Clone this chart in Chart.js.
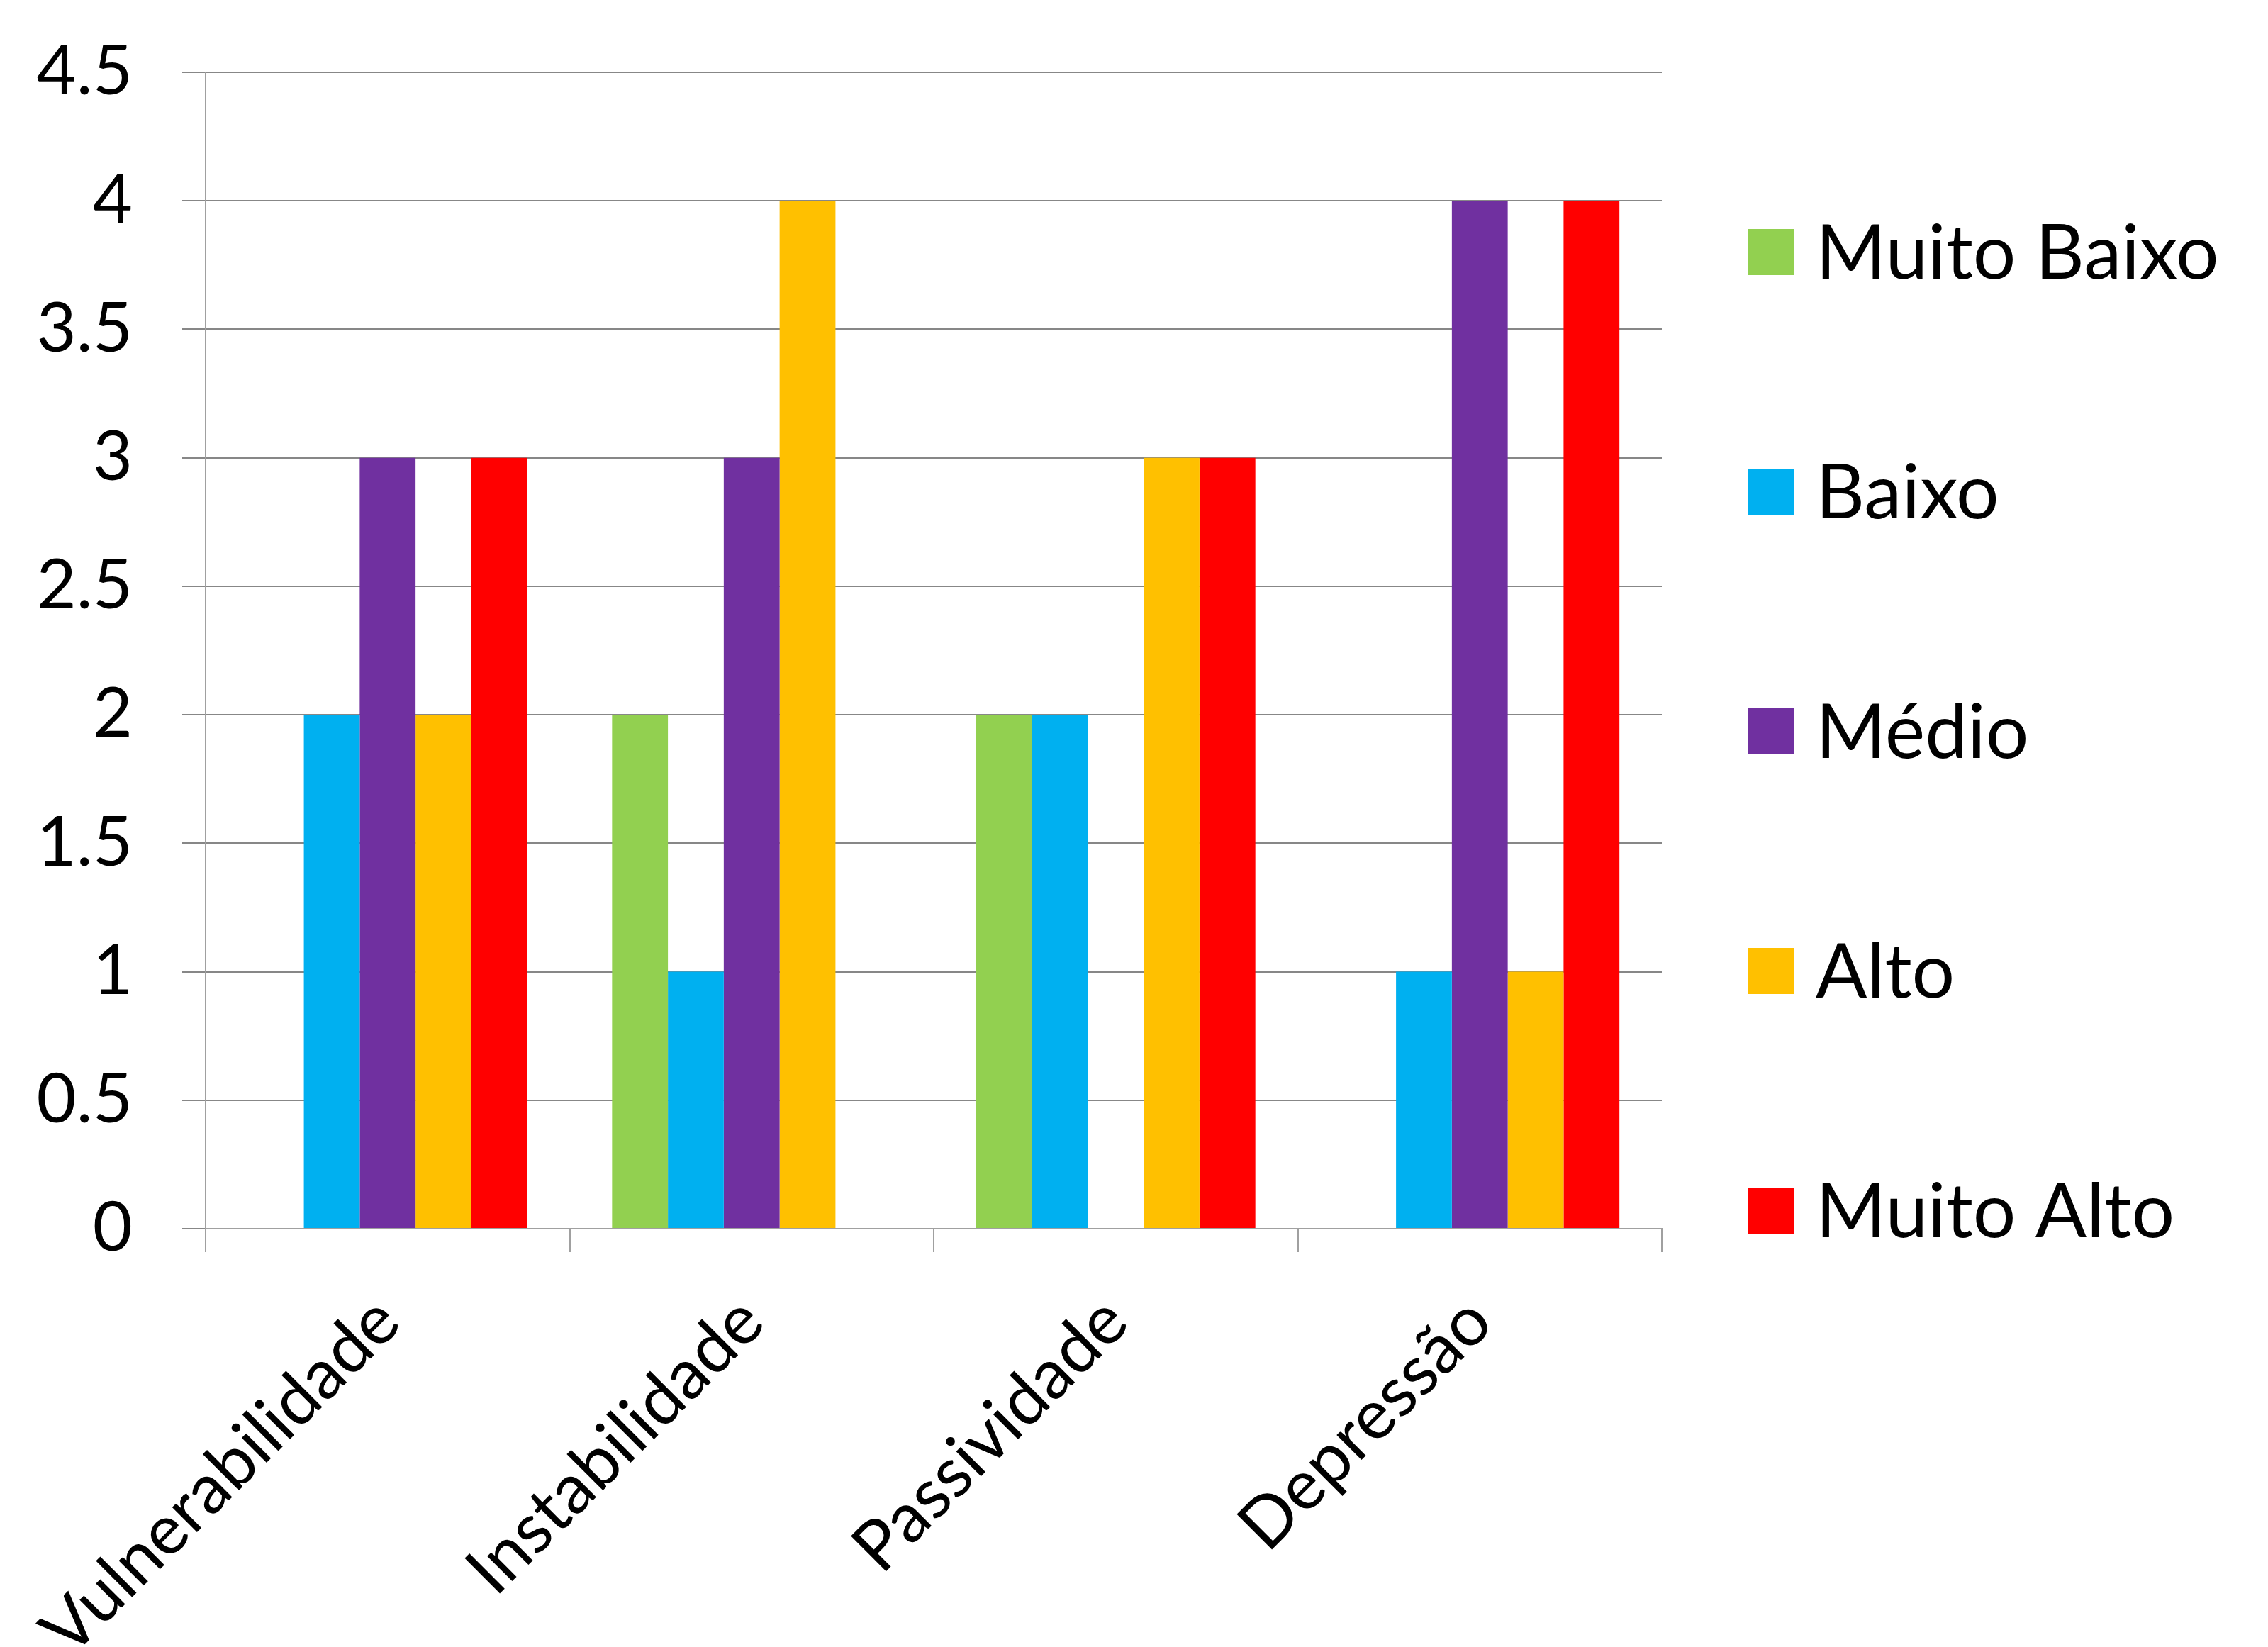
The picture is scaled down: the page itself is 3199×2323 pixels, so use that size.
<!DOCTYPE html>
<html>
<head>
<meta charset="utf-8">
<script src="https://cdn.jsdelivr.net/npm/chart.js@4.4.0/dist/chart.umd.min.js"></script>
<style>
  html, body { margin: 0; padding: 0; background: #fff; }
  #wrap { width: 3199px; height: 2323px; }
</style>
</head>
<body>
<div id="wrap"><canvas id="chart" width="3199" height="2323"></canvas></div>
<script>
/* ---------- data ---------- */
const categories = ["Vulnerabilidade", "Instabilidade", "Passividade", "Depressão"];
const seriesNames = ["Muito Baixo", "Baixo", "Médio", "Alto", "Muito Alto"];
const seriesColors = ["#92D050", "#00B0F0", "#7030A0", "#FFC000", "#FF0000"];

const muitoBaixo = [0, 2, 2, 0];
const baixo      = [2, 1, 2, 1];
const medio      = [3, 3, 0, 4];
const alto       = [2, 4, 3, 1];
const muitoAlto  = [3, 0, 3, 4];

const yTickLabels = ["0", "0.5", "1", "1.5", "2", "2.5", "3", "3.5", "4", "4.5"];

const FONT = "Lato";
const GRID = "#878787";

/* ---------- legend drawn at the right, spread out like Excel ---------- */
const sideLegend = {
    id: "sideLegend",
    afterDraw(chart) {
        const ctx = chart.ctx;
        const area = chart.chartArea;
        ctx.save();
        ctx.font = "107px " + FONT;
        ctx.textBaseline = "middle";
        ctx.textAlign = "left";
        chart.data.datasets.forEach((ds, i) => {
            const cy = area.top + 254 + i * 338;
            ctx.fillStyle = ds.backgroundColor;
            ctx.fillRect(area.right + 121, cy - 33, 65, 65);
            ctx.fillStyle = "#000";
            ctx.fillText(ds.label, area.right + 217, cy + 2);
        });
        ctx.restore();
    }
};

const values = [muitoBaixo, baixo, medio, alto, muitoAlto];

new Chart(document.getElementById("chart"), {
    type: "bar",
    data: {
        labels: categories,
        datasets: seriesNames.map((name, i) => ({
            label: name,
            data: values[i],
            backgroundColor: seriesColors[i],
            borderWidth: 0
        }))
    },
    options: {
        responsive: false,
        animation: false,
        layout: { padding: { left: 0, top: 102, right: 855, bottom: 0 } },
        datasets: {
            bar: { barPercentage: 1, categoryPercentage: 0.767 }
        },
        plugins: {
            legend: { display: false },
            tooltip: { enabled: false }
        },
        scales: {
            x: {
                afterFit: (scale) => { scale.height = 590; },
                grid: {
                    drawOnChartArea: false,
                    drawTicks: true,
                    tickLength: 33,
                    color: "#a0a0a0",
                    lineWidth: 2
                },
                border: { color: "#a0a0a0", width: 2 },
                ticks: {
                    autoSkip: false,
                    maxRotation: 45,
                    minRotation: 45,
                    padding: 40,
                    color: "#000",
                    font: { family: FONT, size: 98 }
                }
            },
            y: {
                min: 0,
                max: 4.5,
                afterFit: (scale) => {
                    scale.width = 290;
                    scale.paddingTop = 0; // tick padding is horizontal here, don't push the plot down
                },
                grid: {
                    color: GRID,
                    lineWidth: 2,
                    drawTicks: true,
                    tickLength: 33
                },
                border: { color: "#a0a0a0", width: 2 },
                ticks: {
                    stepSize: 0.5,
                    padding: 70,
                    color: "#000",
                    font: { family: FONT, size: 97 },
                    callback: (v, i) => yTickLabels[i]
                }
            }
        }
    },
    plugins: [sideLegend]
});
</script>
</body>
</html>
